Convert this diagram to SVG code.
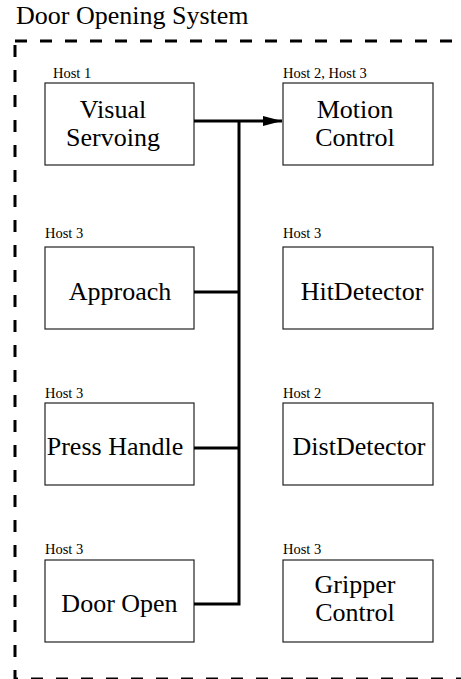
<svg xmlns="http://www.w3.org/2000/svg" width="461" height="679" viewBox="0 0 461 679">
<defs>
<style>
text{font-family:'Liberation Serif','Times New Roman',Times,serif;fill:#000}
.t{font-size:26px}
.h{font-size:14.5px}
.box{fill:#fff;stroke:#222;stroke-width:1.2}
.c{fill:none;stroke:#000;stroke-width:3}
</style>
<marker id="arr" markerWidth="20" markerHeight="12" refX="19" refY="6" orient="auto" markerUnits="userSpaceOnUse">
<path d="M0,1 L19,6 L0,11 Z" fill="#000"/>
</marker>
</defs>
<rect width="461" height="679" fill="#fff"/>
<text class="t" x="16" y="24" font-size="26.5">Door Opening System</text>
<rect id="border" x="15" y="41" width="470" height="638" fill="none" stroke="#000" stroke-width="3" stroke-dasharray="12,13"/>
<g id="visual-servoing">
<text class="h" x="53" y="78">Host 1</text>
<rect class="box" x="45" y="83" width="149" height="82"/>
<text class="t" x="113" y="118" text-anchor="middle">Visual</text>
<text class="t" x="113" y="146" text-anchor="middle">Servoing</text>
</g>
<g id="motion-control">
<text class="h" x="283" y="78">Host 2, Host 3</text>
<rect class="box" x="283" y="83" width="150" height="82"/>
<text class="t" x="355" y="118" text-anchor="middle">Motion</text>
<text class="t" x="355" y="146" text-anchor="middle">Control</text>
</g>
<g id="approach">
<text class="h" x="45" y="238">Host 3</text>
<rect class="box" x="45" y="247" width="149" height="82"/>
<text class="t" x="120" y="300" text-anchor="middle">Approach</text>
</g>
<g id="hit-detector">
<text class="h" x="283" y="238">Host 3</text>
<rect class="box" x="283" y="247" width="150" height="82"/>
<text class="t" x="362" y="300" text-anchor="middle">HitDetector</text>
</g>
<g id="press-handle">
<text class="h" x="45" y="398">Host 3</text>
<rect class="box" x="45" y="403" width="149" height="82"/>
<text class="t" x="115" y="455" text-anchor="middle">Press Handle</text>
</g>
<g id="dist-detector">
<text class="h" x="283" y="398">Host 2</text>
<rect class="box" x="283" y="403" width="150" height="82"/>
<text class="t" x="359" y="455" text-anchor="middle">DistDetector</text>
</g>
<g id="door-open">
<text class="h" x="45" y="554">Host 3</text>
<rect class="box" x="45" y="560" width="149" height="82"/>
<text class="t" x="119.5" y="612" text-anchor="middle">Door Open</text>
</g>
<g id="gripper-control">
<text class="h" x="283" y="554">Host 3</text>
<rect class="box" x="283" y="560" width="150" height="82"/>
<text class="t" x="355" y="593" text-anchor="middle">Gripper</text>
<text class="t" x="355" y="621" text-anchor="middle">Control</text>
</g>
<g id="connectors">
<path class="c" d="M194,121 H282" marker-end="url(#arr)"/>
<path class="c" d="M239,121 V604 H194"/>
<path class="c" d="M194,292 H239"/>
<path class="c" d="M194,448 H239"/>
</g>
</svg>
